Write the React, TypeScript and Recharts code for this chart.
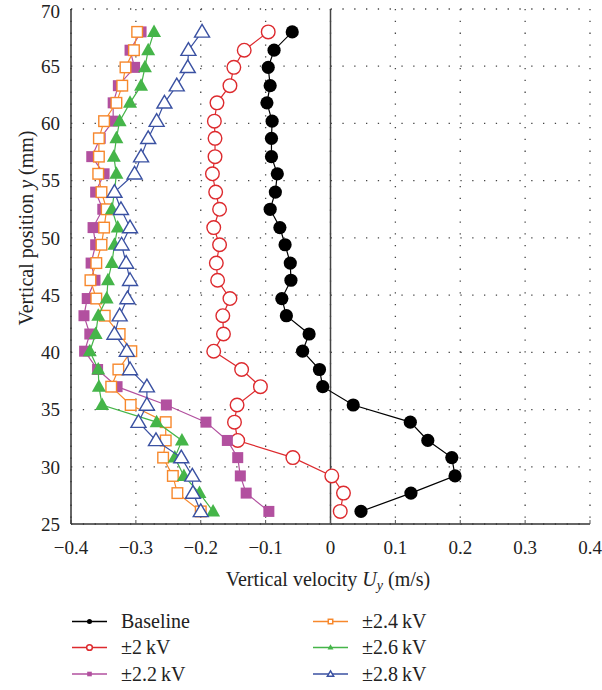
import {
	ScatterChart,
	Scatter,
	XAxis,
	YAxis,
	CartesianGrid,
	ReferenceLine,
	Legend,
} from "recharts";

// vertical position of each measurement (mm), shared by all runs
const positions = [
	68.0, 66.4, 64.9, 63.3, 61.8, 60.2, 58.7, 57.1, 55.6, 54.0, 52.5, 50.9, 49.4,
	47.8, 46.3, 44.7, 43.2, 41.6, 40.1, 38.5, 37.0, 35.4, 33.9, 32.3, 30.8, 29.2,
	27.7, 26.1,
];

// vertical velocity U_y (m/s)
const baseline = [
	-0.059, -0.087, -0.096, -0.093, -0.098, -0.09, -0.091, -0.091, -0.082, -0.085,
	-0.093, -0.078, -0.07, -0.062, -0.061, -0.075, -0.068, -0.033, -0.043, -0.017,
	-0.012, 0.035, 0.123, 0.15, 0.187, 0.192, 0.124, 0.047,
];
const kv20 = [
	-0.096, -0.133, -0.149, -0.155, -0.175, -0.179, -0.178, -0.178, -0.182, -0.177,
	-0.171, -0.18, -0.171, -0.176, -0.174, -0.155, -0.166, -0.165, -0.18, -0.137,
	-0.108, -0.144, -0.148, -0.143, -0.058, 0.002, 0.02, 0.015,
];
const kv22 = [
	-0.292, -0.309, -0.302, -0.327, -0.335, -0.335, -0.355, -0.368, -0.349, -0.362,
	-0.351, -0.366, -0.362, -0.369, -0.363, -0.375, -0.38, -0.371, -0.379, -0.359,
	-0.329, -0.253, -0.192, -0.159, -0.143, -0.139, -0.13, -0.095,
];
const kv24 = [
	-0.298, -0.303, -0.316, -0.321, -0.33, -0.349, -0.357, -0.357, -0.358, -0.353,
	-0.345, -0.349, -0.353, -0.361, -0.37, -0.361, -0.348, -0.325, -0.307, -0.327,
	-0.338, -0.308, -0.254, -0.254, -0.258, -0.243, -0.236, -0.2,
];
const kv26 = [
	-0.272, -0.281, -0.286, -0.292, -0.309, -0.325, -0.33, -0.334, -0.33, -0.333,
	-0.337, -0.328, -0.333, -0.337, -0.343, -0.345, -0.358, -0.362, -0.371, -0.358,
	-0.357, -0.352, -0.268, -0.229, -0.24, -0.226, -0.202, -0.181,
];
const kv28 = [
	-0.198, -0.219, -0.22, -0.237, -0.256, -0.268, -0.281, -0.292, -0.302, -0.333,
	-0.323, -0.309, -0.322, -0.315, -0.309, -0.313, -0.325, -0.333, -0.314, -0.309,
	-0.283, -0.283, -0.296, -0.269, -0.23, -0.213, -0.212, -0.2,
];

const xTicks = [-0.4, -0.3, -0.2, -0.1, 0, 0.1, 0.2, 0.3, 0.4];
const yTicks = [25, 30, 35, 40, 45, 50, 55, 60, 65, 70];

const FONT = "'Liberation Serif', 'Times New Roman', serif";

type Kind = "dot" | "circle" | "square" | "box" | "tri" | "openTri";

const SERIES: { name: string; values: number[]; color: string; kind: Kind }[] = [
	{ name: "Baseline", values: baseline, color: "#000000", kind: "dot" },
	{ name: "±2\u2009kV", values: kv20, color: "#dd2a2e", kind: "circle" },
	{ name: "±2.2\u2009kV", values: kv22, color: "#b2509f", kind: "square" },
	{ name: "±2.4\u2009kV", values: kv24, color: "#f7882c", kind: "box" },
	{ name: "±2.6\u2009kV", values: kv26, color: "#45b549", kind: "tri" },
	{ name: "±2.8\u2009kV", values: kv28, color: "#3a51a2", kind: "openTri" },
];

function marker(kind: Kind, color: string, cx: number, cy: number, s = 1, sw = 1.4) {
	switch (kind) {
		case "dot":
			return <circle cx={cx} cy={cy} r={6.6 * s} fill={color} />;
		case "circle":
			return <circle cx={cx} cy={cy} r={6.8 * s} fill="#fff" stroke={color} strokeWidth={sw} />;
		case "square":
			return <rect x={cx - 5.5 * s} y={cy - 5.5 * s} width={11 * s} height={11 * s} fill={color} />;
		case "box":
			return (
				<rect x={cx - 5.3 * s} y={cy - 5.3 * s} width={10.6 * s} height={10.6 * s} fill="#fff" stroke={color} strokeWidth={sw} />
			);
		case "tri":
			return (
				<polygon
					points={`${cx},${cy - 7.5 * s} ${cx + 7 * s},${cy + 5 * s} ${cx - 7 * s},${cy + 5 * s}`}
					fill={color}
				/>
			);
		default:
			return (
				<polygon
					points={`${cx},${cy - 7.5 * s} ${cx + 7.5 * s},${cy + 5.2 * s} ${cx - 7.5 * s},${cy + 5.2 * s}`}
					fill="#fff"
					stroke={color}
					strokeWidth={sw}
				/>
			);
	}
}

const fmtX = (v: number) => (v === 0 ? "0" : v < 0 ? `\u2212${Math.abs(v).toFixed(1)}` : v.toFixed(1));

function XLabel() {
	return (
		<text x={328} y={586} textAnchor="middle" fontFamily={FONT} fontSize={20} fill="#222">
			Vertical velocity <tspan fontStyle="italic">U</tspan>
			<tspan fontStyle="italic" fontSize={14} dy={4}>y</tspan>
			<tspan dy={-4}> (m/s)</tspan>
		</text>
	);
}

function YLabel() {
	return (
		<text
			transform="translate(33,228) rotate(-90)"
			textAnchor="middle"
			fontFamily={FONT}
			fontSize={20}
			fill="#222"
		>
			Vertical position <tspan fontStyle="italic">y</tspan> (mm)
		</text>
	);
}

function LegendBox() {
	const rows = [21.5, 47.5, 74];
	return (
		<svg width={602} height={90}>
			{SERIES.map((s, i) => {
				const col = i < 3 ? 0 : 1;
				const y = rows[i % 3];
				const x0 = col === 0 ? 72 : 313;
				return (
					<g key={s.name}>
						<line x1={x0} x2={x0 + 35} y1={y} y2={y} stroke={s.color} strokeWidth={1.5} />
						{marker(s.kind, s.color, x0 + 17.5, y, s.kind === "dot" ? 0.38 : 0.42, 1.5)}
						<text x={x0 + 49} y={y + 6.5} fontFamily={FONT} fontSize={20} fill="#222">
							{s.name}
						</text>
					</g>
				);
			})}
		</svg>
	);
}

export default function App() {
	return (
		<div
			style={{
				position: "absolute",
				left: 0,
				top: 0,
				width: 602,
				height: 690,
				background: "#fff",
				fontFamily: FONT,
			}}
		>
			<ScatterChart width={602} height={690} margin={{ top: 9, right: 12, bottom: 90, left: 0 }}>
				<CartesianGrid stroke="#444" strokeWidth={1.3} strokeDasharray="1.3 10.5" />
				<XAxis
					type="number"
					dataKey="u"
					domain={[-0.4, 0.4]}
					ticks={xTicks}
					tickFormatter={fmtX}
					height={76}
					tickSize={-4}
					tickMargin={21}
					tickLine={{ stroke: "#555" }}
					axisLine={{ stroke: "#333", strokeWidth: 1.5 }}
					tick={{ fontSize: 19, fontFamily: FONT, fill: "#222" }}
					label={XLabel}
				/>
				<XAxis
					xAxisId="top"
					orientation="top"
					type="number"
					domain={[-0.4, 0.4]}
					height={0}
					tick={false}
					tickLine={false}
					axisLine={{ stroke: "#333", strokeWidth: 1.5 }}
				/>
				<YAxis
					type="number"
					dataKey="y"
					domain={[25, 70]}
					ticks={yTicks}
					width={71}
					tickSize={0}
					tickMargin={11}
					tickLine={false}
					axisLine={{ stroke: "#333", strokeWidth: 1.5 }}
					tick={{ fontSize: 19, fontFamily: FONT, fill: "#222" }}
					label={YLabel}
				/>
				<YAxis
					yAxisId="right"
					orientation="right"
					type="number"
					domain={[25, 70]}
					width={0}
					tick={false}
					tickLine={false}
					axisLine={{ stroke: "#333", strokeWidth: 1.5 }}
				/>
				<ReferenceLine x={0} stroke="#444" strokeWidth={1.5} />
				{SERIES.map((s) => (
					<Scatter
						key={s.name}
						name={s.name}
						data={positions.map((y, i) => ({ u: s.values[i], y }))}
						line={{ stroke: s.color, strokeWidth: 1.2 }}
						shape={(p: any) => marker(s.kind, s.color, p.cx, p.cy)}
						isAnimationActive={false}
					/>
				))}
				<Legend
					layout="vertical"
					verticalAlign="middle"
					align="center"
					wrapperStyle={{ left: 0, top: 600, width: 602, height: 90 }}
					content={LegendBox}
				/>
			</ScatterChart>
		</div>
	);
}
